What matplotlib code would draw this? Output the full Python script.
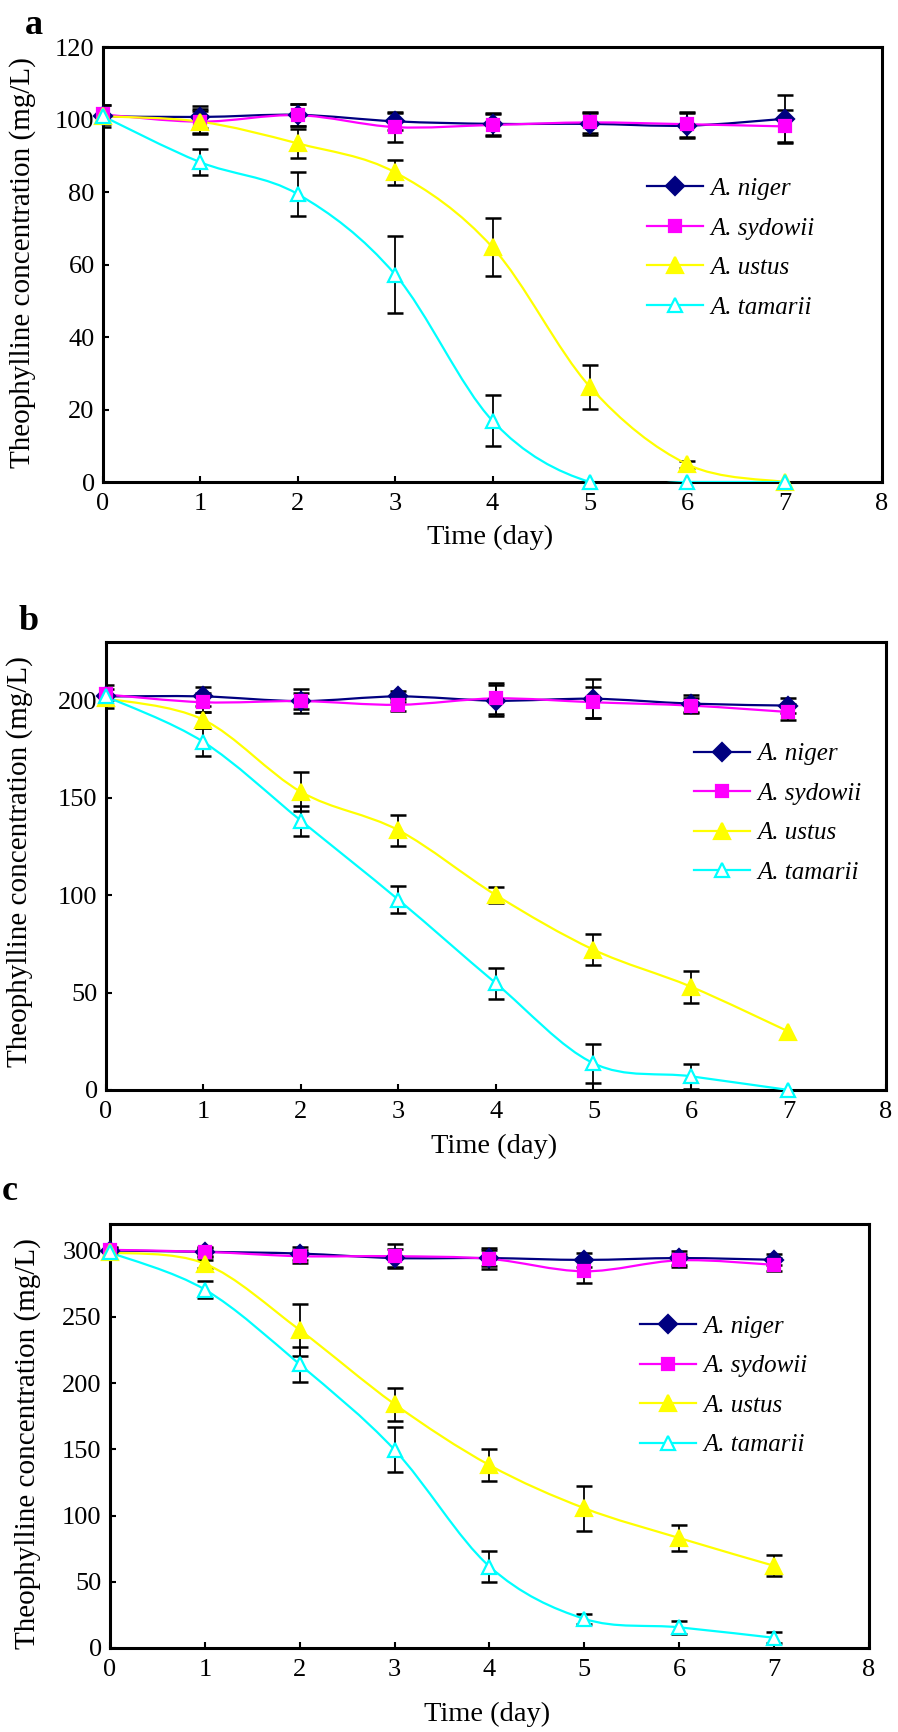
import numpy as np
import matplotlib
matplotlib.use("Agg")
import matplotlib.pyplot as plt
from matplotlib.path import Path
from matplotlib.patches import PathPatch
from matplotlib.lines import Line2D

plt.rcParams["font.family"] = ["Liberation Serif", "DejaVu Serif"]

days = [0, 1, 2, 3, 4, 5, 6, 7]
species = ["A. niger", "A. sydowii", "A. ustus", "A. tamarii"]

# panel a (100 mg/L)
a_niger = [101, 100.8, 101.4, 99.6, 98.9, 98.9, 98.4, 100.3]
a_niger_err = [3, 3, 3, 2.5, 3, 3, 3.5, 6.5]
a_sydowii = [101.5, 99.5, 101.3, 98, 98.6, 99.3, 98.8, 98.2]
a_sydowii_err = [2.5, 3.5, 3, 4, 3, 3, 3.5, 4.5]
a_ustus = [101, 99.5, 93.5, 85.5, 64.8, 26.3, 4.9, 0]
a_ustus_err = [0, 3, 4, 3.5, 8, 6, 1, 0]
a_tamarii = [101, 88.3, 79.5, 57.3, 16.9, 0, 0, 0]
a_tamarii_err = [0, 3.6, 6, 10.6, 7, 0, 0, 0]

# panel b (200 mg/L)
b_niger = [202, 202, 199.6, 202, 199.8, 200.8, 198.3, 197.3]
b_niger_err = [6, 5, 6, 3, 8, 10, 4.5, 4]
b_sydowii = [203, 199, 199.6, 197.7, 201, 199, 197.3, 194]
b_sydowii_err = [3, 5, 4, 3, 8, 8, 4, 4]
b_ustus = [201, 190, 153, 133.3, 100, 72, 53, 30]
b_ustus_err = [0, 4, 10, 8, 4, 8, 8.3, 0]
b_tamarii = [202, 178.6, 138.2, 97.6, 54.7, 13.7, 7, 0]
b_tamarii_err = [0, 7, 7.6, 7, 7.8, 10, 6.5, 0]

# panel c (300 mg/L)
c_niger = [300, 299, 297.7, 294.3, 294.3, 292.9, 294.3, 293]
c_niger_err = [2, 4, 5, 7, 6, 5, 5, 4]
c_sydowii = [300.5, 299, 295.7, 295.7, 293.7, 284.3, 292.6, 289.2]
c_sydowii_err = [2, 3, 5, 9, 8, 9, 5, 5]
c_ustus = [298.5, 290, 240, 184, 138, 105.5, 83, 62]
c_ustus_err = [0, 3, 19.5, 12.5, 12, 17, 9.5, 8]
c_tamarii = [298.5, 270.5, 214, 149.5, 61.5, 22, 15.6, 7.7]
c_tamarii_err = [0, 6.7, 13, 17, 11.8, 4, 5, 4]

colors = ["#000080", "#FF00FF", "#FFFF00", "#00FFFF"]
markers = ["D", "s", "^", "^"]
msizes = [9, 9, 11, 10]
faces = ["#000080", "#FF00FF", "#FFFF00", "white"]


def smooth_path(x, y):
    # excel-like smoothed line as cubic bezier segments
    pts = np.column_stack([x, y]).astype(float)
    n = len(pts)
    verts = [pts[0]]
    codes = [Path.MOVETO]
    for i in range(n - 1):
        p0 = pts[i - 1] if i > 0 else pts[i]
        p1 = pts[i]
        p2 = pts[i + 1]
        p3 = pts[i + 2] if i + 2 < n else pts[i + 1]
        verts += [p1 + (p2 - p0) / 6, p2 - (p3 - p1) / 6, p2]
        codes += [Path.CURVE4] * 3
    return Path(verts, codes)


fig = plt.figure(figsize=(8.98, 17.32), dpi=100)

panels = [
    ("a", [0.1147, 0.7217, 0.8675, 0.2509], (0, 120), np.arange(0, 121, 20),
     [(a_niger, a_niger_err), (a_sydowii, a_sydowii_err), (a_ustus, a_ustus_err), (a_tamarii, a_tamarii_err)],
     (0.698, 0.5385), (-0.086, 0.506), -0.127, (34 / 898, 1 - 25 / 1732)),
    ("b", [0.118, 0.3707, 0.8686, 0.2587], (0, 230), np.arange(0, 201, 50),
     [(b_niger, b_niger_err), (b_sydowii, b_sydowii_err), (b_ustus, b_ustus_err), (b_tamarii, b_tamarii_err)],
     (0.754, 0.617), (-0.094, 0.509), -0.127, (29 / 898, 1 - 621 / 1732)),
    ("c", [0.1225, 0.0485, 0.8452, 0.2448], (0, 320), np.arange(0, 301, 50),
     [(c_niger, c_niger_err), (c_sydowii, c_sydowii_err), (c_ustus, c_ustus_err), (c_tamarii, c_tamarii_err)],
     (0.698, 0.618), (-0.091, 0.482), -0.156, (10 / 898, 1 - 1191 / 1732)),
]

for letter, rect, ylim, yticks, series, leg_xy, ylab_xy, xlab_y, let_xy in panels:
    ax = fig.add_axes(rect)
    for k, (vals, err) in enumerate(series):
        vals = np.array(vals, dtype=float)
        err = np.array(err, dtype=float)
        x = np.array(days, dtype=float)
        m = err > 0
        ax.errorbar(x[m], vals[m], yerr=err[m], fmt="none", ecolor="black",
                    elinewidth=1.3, capsize=5.5, capthick=1.8, zorder=2)
        ax.add_patch(PathPatch(smooth_path(x, vals), fill=False, edgecolor=colors[k],
                               lw=1.6, zorder=3))
        ax.plot(x, vals, linestyle="none", marker=markers[k], ms=msizes[k],
                mfc=faces[k], mec=colors[k], mew=1.6, zorder=4, clip_on=False)

    ax.set_xlim(0, 8)
    ax.set_ylim(*ylim)
    ax.set_xticks(range(0, 9))
    ax.set_yticks(yticks)
    ax.tick_params(direction="in", length=4, width=1.5, labelsize=19)
    ax.tick_params(axis="x", pad=8)
    ax.tick_params(axis="y", pad=6)
    for sp in ax.spines.values():
        sp.set_linewidth(2.2)

    ax.set_xlabel("Time (day)", fontsize=20.5)
    ax.xaxis.set_label_coords(0.497, xlab_y)
    ax.xaxis.label.set_va("center")
    ax.set_ylabel("Theophylline concentration (mg/L)", fontsize=21)
    ax.yaxis.set_label_coords(*ylab_xy)

    handles = [Line2D([], [], color=colors[k], lw=1.6, marker=markers[k], ms=msizes[k],
                      mfc=faces[k], mec=colors[k], mew=1.6) for k in range(4)]
    ax.legend(handles, species, loc="center left", bbox_to_anchor=leg_xy,
              frameon=False, borderpad=0, borderaxespad=0, handlelength=2.25,
              handletextpad=0.3, labelspacing=0.68, numpoints=1,
              prop={"family": ["Liberation Serif"], "style": "italic", "size": 18})

    fig.text(let_xy[0], let_xy[1], letter, fontsize=26, fontweight="bold",
             ha="center", va="center")

fig.savefig("out.png", dpi=100)
